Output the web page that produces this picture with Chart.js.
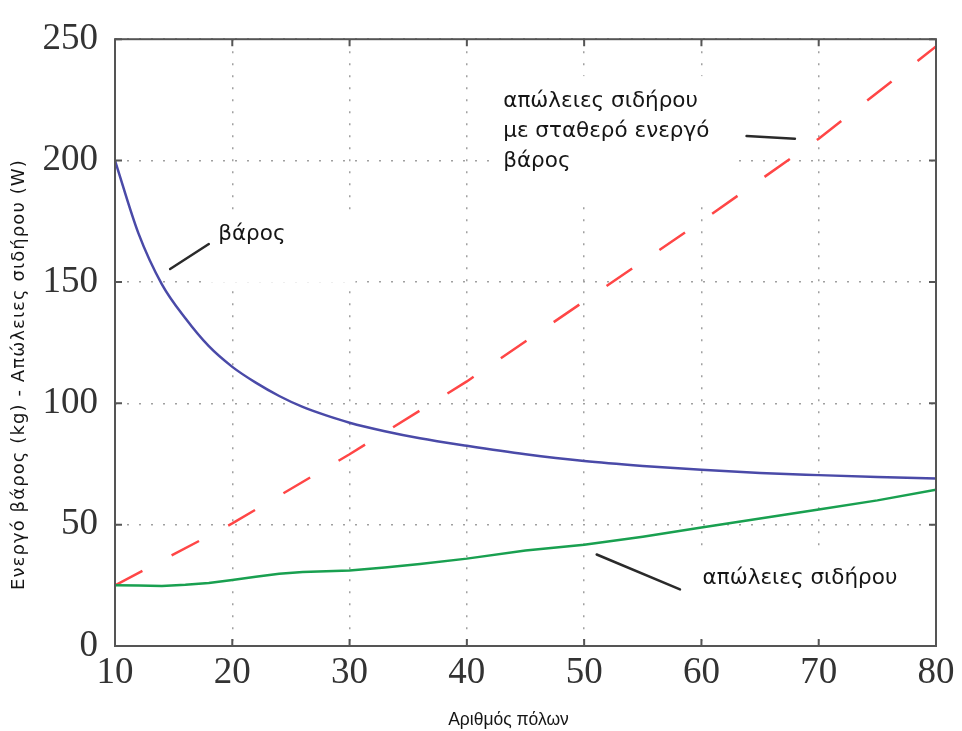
<!DOCTYPE html>
<html>
<head>
<meta charset="utf-8">
<script src="https://cdn.jsdelivr.net/npm/chart.js@4.4.1/dist/chart.umd.min.js"></script>
<style>
  html, body { margin: 0; padding: 0; background: #fff; }
  canvas { display: block; }
</style>
</head>
<body>
<canvas id="myChart" width="962" height="731"></canvas>
<script>
// number of poles
const poles = [10, 12, 14, 16, 18, 20, 22, 24, 26, 28, 30, 33, 36, 40, 45, 50, 55, 60, 65, 70, 75, 80];
// active weight (kg)
const activeWeight = [200, 170, 149, 135, 123.5, 115, 108.5, 103, 98.5, 95, 92, 88.5, 85.6, 82.5, 79, 76.2, 74.2, 72.6, 71.3, 70.4, 69.6, 69];
// iron losses (W)
const ironLoss = [25, 24.9, 24.7, 25.2, 26, 27.2, 28.5, 29.8, 30.5, 30.8, 31.1, 32.3, 33.8, 36, 39.3, 41.7, 45, 48.8, 52.5, 56.2, 60, 64.4];
// iron losses with constant active weight (W)
const polesConst = [10, 20, 30, 40, 50, 60, 70, 80];
const ironLossConst = [25, 50.5, 79, 109, 142, 175, 209, 247];

const xTicks = [10, 20, 30, 40, 50, 60, 70, 80];
const yTicks = [0, 50, 100, 150, 200, 250];

const toPoints = (xs, ys) => xs.map((v, i) => ({ x: v, y: ys[i] }));

const sans = '"Liberation Sans", Arial, sans-serif';
const wide = '"DejaVu Sans", sans-serif';
const serif = '"Liberation Serif", "Times New Roman", serif';

// labels with their white boxes and pointer lines (data coordinates)
const notes = [
  { lines: ['βάρος'], at: [18.8, 169.7], box: [18.1, 177.2, 30.5, 149.7], ptr: [14.7, 155.3, 18.0, 165.6] },
  { lines: ['απώλειες σιδήρου', 'με σταθερό ενεργό', 'βάρος'], at: [43.1, 224.5], box: [42.0, 234.8, 62.6, 183.4], ptr: [63.85, 210.1, 67.97, 209.0] },
  { lines: ['απώλειες σιδήρου'], at: [60.1, 28.0], box: [50.9, 39.5, 79.5, 2.5], ptr: [51.07, 37.7, 58.17, 23.3] }
];

const annotations = {
  id: 'annotations',
  beforeDatasetsDraw(chart) {
    const { ctx, scales: { x, y } } = chart;
    ctx.save();
    ctx.fillStyle = '#fff';
    notes.forEach(n => {
      const x0 = x.getPixelForValue(n.box[0]), y0 = y.getPixelForValue(n.box[1]);
      const x1 = x.getPixelForValue(n.box[2]), y1 = y.getPixelForValue(n.box[3]);
      ctx.fillRect(x0, y0, x1 - x0, y1 - y0);
    });
    ctx.strokeStyle = '#2a2a2a';
    ctx.lineWidth = 2.5;
    ctx.lineCap = 'round';
    notes.forEach(n => {
      ctx.beginPath();
      ctx.moveTo(x.getPixelForValue(n.ptr[0]), y.getPixelForValue(n.ptr[1]));
      ctx.lineTo(x.getPixelForValue(n.ptr[2]), y.getPixelForValue(n.ptr[3]));
      ctx.stroke();
    });
    ctx.fillStyle = '#151515';
    ctx.font = '21.5px ' + wide;
    ctx.textBaseline = 'middle';
    ctx.textAlign = 'left';
    notes.forEach(n => {
      const tx = x.getPixelForValue(n.at[0]);
      const ty = y.getPixelForValue(n.at[1]);
      n.lines.forEach((t, i) => ctx.fillText(t, tx, ty + i * 30));
    });
    ctx.restore();
  },
  afterDraw(chart) {
    const { ctx, chartArea: a, scales: { x, y } } = chart;
    ctx.save();
    // frame
    ctx.strokeStyle = '#555';
    ctx.lineWidth = 2;
    ctx.strokeRect(a.left, a.top, a.right - a.left, a.bottom - a.top);
    // inward tick marks on all four sides
    xTicks.forEach(v => {
      const px = x.getPixelForValue(v);
      ctx.beginPath();
      ctx.moveTo(px, a.bottom); ctx.lineTo(px, a.bottom - 7);
      ctx.moveTo(px, a.top); ctx.lineTo(px, a.top + 7);
      ctx.stroke();
    });
    yTicks.forEach(v => {
      const py = y.getPixelForValue(v);
      ctx.beginPath();
      ctx.moveTo(a.left, py); ctx.lineTo(a.left + 7, py);
      ctx.moveTo(a.right, py); ctx.lineTo(a.right - 7, py);
      ctx.stroke();
    });
    // axis titles
    ctx.fillStyle = '#151515';
    ctx.textAlign = 'center';
    ctx.textBaseline = 'middle';
    ctx.font = '17.5px ' + sans;
    ctx.fillText('Αριθμός πόλων', (a.left + a.right) / 2 - 17, 720);
    ctx.font = '18px ' + wide;
    ctx.letterSpacing = '1.1px';
    ctx.translate(19, (a.top + a.bottom) / 2 + 32);
    ctx.rotate(-Math.PI / 2);
    ctx.fillText('Ενεργό βάρος (kg) - Απώλειες σιδήρου (W)', 0, 0);
    ctx.restore();
  }
};

new Chart(document.getElementById('myChart'), {
  type: 'line',
  data: {
    datasets: [
      {
        label: 'βάρος',
        data: toPoints(poles, activeWeight),
        borderColor: '#4a4aa8',
        borderWidth: 2.5,
        pointRadius: 0,
        cubicInterpolationMode: 'monotone'
      },
      {
        label: 'απώλειες σιδήρου',
        data: toPoints(poles, ironLoss),
        borderColor: '#19a050',
        borderWidth: 2.5,
        pointRadius: 0,
        tension: 0
      },
      {
        label: 'απώλειες σιδήρου με σταθερό ενεργό βάρος',
        data: toPoints(polesConst, ironLossConst),
        borderColor: '#ff4646',
        borderWidth: 2.5,
        borderDash: [31, 33],
        pointRadius: 0,
        tension: 0
      }
    ]
  },
  options: {
    responsive: false,
    animation: false,
    devicePixelRatio: 1,
    layout: { padding: { top: 38, right: 26, left: 0, bottom: 0 } },
    plugins: {
      legend: { display: false },
      tooltip: { enabled: false }
    },
    scales: {
      x: {
        type: 'linear',
        min: 10,
        max: 80,
        afterBuildTicks: s => { s.ticks = xTicks.map(v => ({ value: v })); },
        afterFit: s => { s.height = 85; s.paddingLeft = 0; s.paddingRight = 0; },
        ticks: { font: { family: serif, size: 37 }, color: '#333', padding: 5, maxRotation: 0 },
        grid: { color: '#a0a0a0', lineWidth: 1.5, drawTicks: false },
        border: { display: false, dash: [2, 10] }
      },
      y: {
        min: 0,
        max: 250,
        afterBuildTicks: s => { s.ticks = yTicks.map(v => ({ value: v })); },
        afterFit: s => { s.width = 115; },
        ticks: { font: { family: serif, size: 37 }, color: '#333', padding: 17 },
        grid: { color: '#a0a0a0', lineWidth: 1.5, drawTicks: false },
        border: { display: false, dash: [2, 10] }
      }
    }
  },
  plugins: [annotations]
});
</script>
</body>
</html>
